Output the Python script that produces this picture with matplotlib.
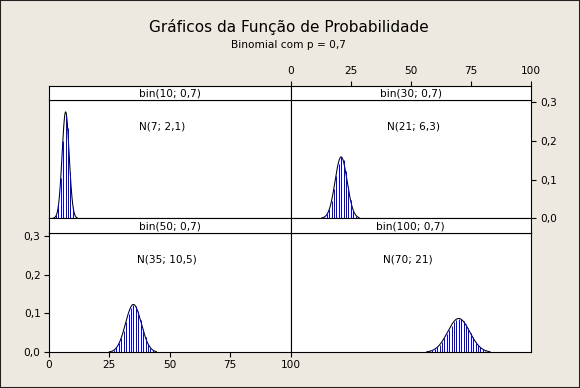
import numpy as np
import matplotlib
matplotlib.use("Agg")
import matplotlib.pyplot as plt
from matplotlib.patches import Rectangle

# ---------------- data ----------------
titles = ["bin(10; 0,7)", "bin(30; 0,7)", "bin(50; 0,7)", "bin(100; 0,7)"]
normal_labels = ["N(7; 2,1)", "N(21; 6,3)", "N(35; 10,5)", "N(70; 21)"]
normal_mean = [7, 21, 35, 70]
normal_var = [2.1, 6.3, 10.5, 21]

# binomial probabilities, first k of each list
k_start = [2, 11, 23, 53]
pmf_10 = [0.0014, 0.009, 0.037, 0.103, 0.200, 0.267, 0.234, 0.121, 0.028]
pmf_30 = [0.0001, 0.0005, 0.0015, 0.0043, 0.0106, 0.0231, 0.0444, 0.0749,
          0.1103, 0.1416, 0.1573, 0.1501, 0.1219, 0.0829, 0.0464, 0.0208,
          0.0072, 0.0018, 0.0003]
pmf_50 = [0.0002, 0.0006, 0.0014, 0.0032, 0.0067, 0.0128, 0.0227, 0.0370,
          0.0557, 0.0772, 0.0983, 0.1147, 0.1223, 0.1189, 0.1050, 0.0838,
          0.0602, 0.0386, 0.0220, 0.0110, 0.0048, 0.0018, 0.0006, 0.0001]
pmf_100 = [0.0001, 0.0003, 0.0006, 0.0010, 0.0019, 0.0032, 0.0053, 0.0085,
           0.0130, 0.0191, 0.0268, 0.0362, 0.0468, 0.0579, 0.0686, 0.0776,
           0.0840, 0.0868, 0.0856, 0.0804, 0.0720, 0.0613, 0.0496, 0.0381,
           0.0277, 0.0190, 0.0124, 0.0076, 0.0044, 0.0024, 0.0012, 0.0006,
           0.0003, 0.0001]
pmfs = [pmf_10, pmf_30, pmf_50, pmf_100]
curve_lo = [1.9, 12.9, 25.0, 56.7]
curve_hi = [11.8, 28.5, 44.5, 83.0]
label_x = [47, 51, 49, 49]

x_ticks = [0, 25, 50, 75, 100]
y_ticks = [0.0, 0.1, 0.2, 0.3]
y_ticklabels = ["0,0", "0,1", "0,2", "0,3"]

# ---------------- layout ----------------
W, H = 580, 388
BG = "#EEE9E0"
fig = plt.figure(figsize=(W / 100, H / 100), dpi=100)
fig.patch.set_facecolor(BG)
plt.rcParams["font.family"] = ["DejaVu Sans"]

cols = [(48.7, 290.7), (290.7, 530.7)]
rows_plot = [(100.0, 218.3), (233.3, 352.3)]
rows_strip = [(85.7, 100.0), (218.3, 233.3)]


def rect(x0, x1, y0, y1):
    return [x0 / W, 1 - y1 / H, (x1 - x0) / W, (y1 - y0) / H]


TFS = 7.6
for i in range(4):
    r, c = divmod(i, 2)
    x0, x1 = cols[c]
    ax = fig.add_axes(rect(x0, x1, *rows_plot[r]))
    ax.set_facecolor("white")
    ax.set_xlim(0, 100)
    ax.set_ylim(0, 0.306)
    mu, var = normal_mean[i], normal_var[i]
    xs = np.linspace(curve_lo[i], curve_hi[i], 300)
    ys = np.exp(-(xs - mu) ** 2 / (2 * var)) / np.sqrt(2 * np.pi * var)
    ax.plot(xs, ys, color="black", lw=0.75, zorder=2)
    k = np.arange(k_start[i], k_start[i] + len(pmfs[i]))
    for kk, pp in zip(k, pmfs[i]):
        ax.plot([kk, kk], [0, pp], color="#0000FF", lw=0.72,
                solid_capstyle="butt", snap=True, zorder=3)
    ax.text(label_x[i], 0.78, normal_labels[i], transform=ax.get_xaxis_transform(),
            ha="center", va="center", fontsize=TFS)
    for s in ax.spines.values():
        s.set_linewidth(0.8)
    ax.tick_params(length=3.4, width=0.8, labelsize=TFS, pad=2.5)
    ax.set_xticks([])
    ax.set_yticks([])
    if i == 2:
        ax.set_xticks(x_ticks)
        ax.set_xticklabels([str(v) for v in x_ticks])
        ax.set_yticks(y_ticks)
        ax.set_yticklabels(y_ticklabels)
    if i == 1:
        ax.yaxis.tick_right()
        ax.set_yticks(y_ticks)
        ax.set_yticklabels(y_ticklabels)
        ax.tick_params(axis="y", pad=3.5)

    sx = fig.add_axes(rect(x0, x1, *rows_strip[r]))
    sx.set_facecolor("white")
    sx.set_xlim(0, 100)
    sx.set_ylim(0, 1)
    sx.set_yticks([])
    sx.set_xticks([])
    for s in sx.spines.values():
        s.set_linewidth(0.8)
    sx.text(0.5, 0.45, titles[i], transform=sx.transAxes, ha="center",
            va="center", fontsize=TFS)
    if i == 1:
        sx.xaxis.tick_top()
        sx.set_xticks(x_ticks)
        sx.set_xticklabels([str(v) for v in x_ticks])
        sx.tick_params(length=3.4, width=0.8, labelsize=TFS, pad=3.5)

fig.text(289 / W, 1 - 27 / H, "Gráficos da Função de Probabilidade",
         ha="center", va="center", fontsize=11)
fig.text(288 / W, 1 - 45 / H, "Binomial com p = 0,7",
         ha="center", va="center", fontsize=7.6)

fig.patches.append(Rectangle((0, 0), 1, 1, transform=fig.transFigure,
                             fill=False, ec="#202020", lw=1.5))

fig.savefig("out.png", dpi=100, facecolor=BG)
